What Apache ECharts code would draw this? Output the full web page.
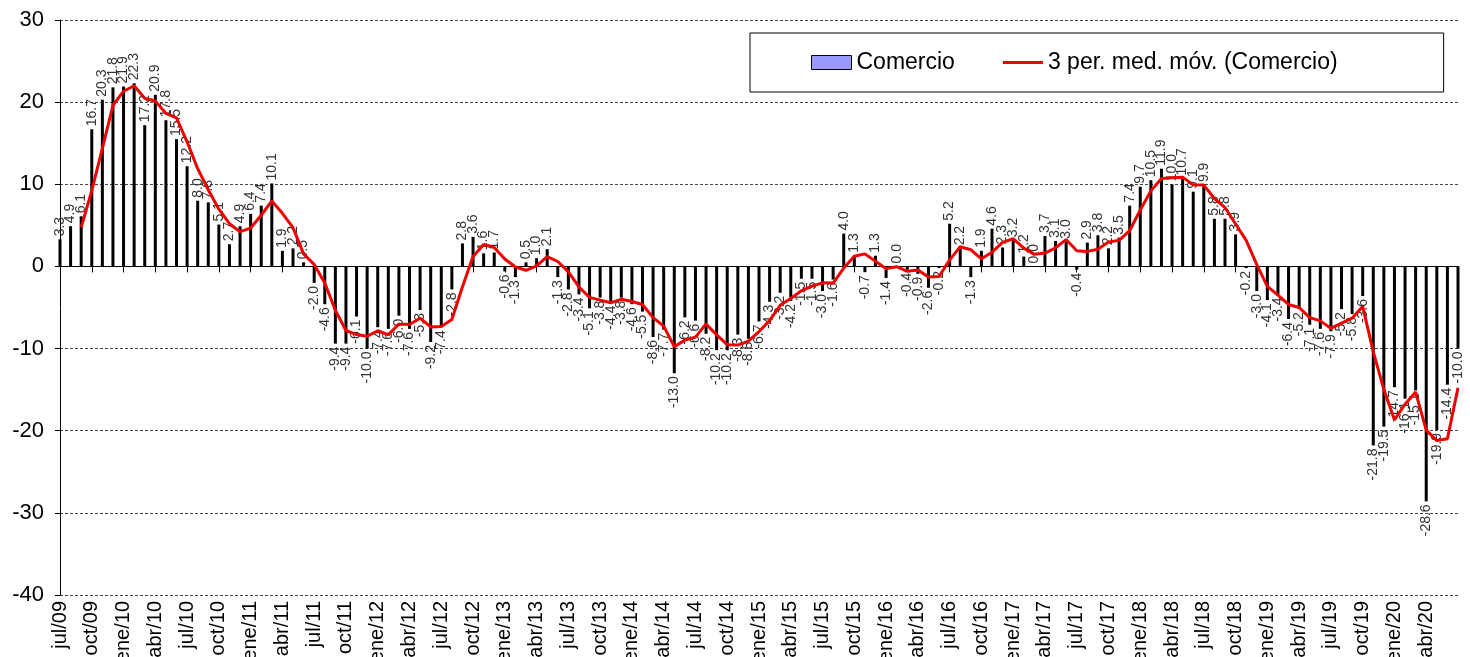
<!DOCTYPE html>
<html>
<head>
<meta charset="utf-8">
<script src="https://cdn.jsdelivr.net/npm/echarts@6/dist/echarts.min.js"></script>
<style>
html,body{margin:0;padding:0;background:#fff;}
#chart{width:1470px;height:657px;}
</style>
</head>
<body>
<div id="chart"></div>
<script>
const categories = [
 'jul/09','ago/09','sep/09','oct/09','nov/09','dic/09',
 'ene/10','feb/10','mar/10','abr/10','may/10','jun/10','jul/10','ago/10','sep/10','oct/10','nov/10','dic/10',
 'ene/11','feb/11','mar/11','abr/11','may/11','jun/11','jul/11','ago/11','sep/11','oct/11','nov/11','dic/11',
 'ene/12','feb/12','mar/12','abr/12','may/12','jun/12','jul/12','ago/12','sep/12','oct/12','nov/12','dic/12',
 'ene/13','feb/13','mar/13','abr/13','may/13','jun/13','jul/13','ago/13','sep/13','oct/13','nov/13','dic/13',
 'ene/14','feb/14','mar/14','abr/14','may/14','jun/14','jul/14','ago/14','sep/14','oct/14','nov/14','dic/14',
 'ene/15','feb/15','mar/15','abr/15','may/15','jun/15','jul/15','ago/15','sep/15','oct/15','nov/15','dic/15',
 'ene/16','feb/16','mar/16','abr/16','may/16','jun/16','jul/16','ago/16','sep/16','oct/16','nov/16','dic/16',
 'ene/17','feb/17','mar/17','abr/17','may/17','jun/17','jul/17','ago/17','sep/17','oct/17','nov/17','dic/17',
 'ene/18','feb/18','mar/18','abr/18','may/18','jun/18','jul/18','ago/18','sep/18','oct/18','nov/18','dic/18',
 'ene/19','feb/19','mar/19','abr/19','may/19','jun/19','jul/19','ago/19','sep/19','oct/19','nov/19','dic/19',
 'ene/20','feb/20','mar/20','abr/20','may/20','jun/20','jul/20'
];

const comercio = [
 3.3, 4.9, 6.1, 16.7, 20.3, 21.8,
 21.9, 22.3, 17.2, 20.9, 17.8, 15.5, 12.2, 8.0, 7.8, 5.1, 2.7, 4.9,
 6.4, 7.4, 10.1, 1.9, 2.2, 0.5, -2.0, -4.6, -9.4, -9.4, -6.1, -10.0,
 -7.4, -7.6, -6.0, -7.6, -5.3, -9.2, -7.4, -2.8, 2.8, 3.6, 1.6, 1.7,
 -0.6, -1.3, 0.5, 1.0, 2.1, -1.3, -2.8, -3.4, -5.1, -3.8, -4.4, -3.8,
 -4.6, -5.5, -8.6, -7.7, -13.0, -6.2, -6.6, -8.2, -10.2, -10.2, -8.3, -8.8,
 -6.7, -4.3, -3.2, -4.2, -1.5, -1.5, -3.0, -1.6, 4.0, 1.3, -0.7, 1.3,
 -1.4, 0.0, -0.4, -0.9, -2.6, -0.2, 5.2, 2.2, -1.3, 1.9, 4.6, 2.3,
 3.2, 1.2, 0.0, 3.7, 3.1, 3.0, -0.4, 2.9, 3.8, 2.2, 3.5, 7.4,
 9.7, 10.5, 11.9, 10.0, 10.7, 9.1, 9.9, 5.8, 5.8, 3.9, -0.2, -3.0,
 -4.1, -3.4, -6.4, -5.2, -7.1, -7.6, -7.9, -5.2, -5.8, -3.6, -21.8, -19.5,
 -14.7, -16.1, -15.1, -28.6, -19.9, -14.4, -10.0
];

const mediaMovil = [
 '-', '-', 4.77, 9.23, 14.37, 19.60,
 21.33, 22.00, 20.47, 20.13, 18.63, 18.07, 15.17, 11.90, 9.33, 6.97, 5.20, 4.23,
 4.67, 6.23, 7.97, 6.47, 4.73, 1.53, 0.23, -2.03, -5.33, -7.80, -8.30, -8.50,
 -7.83, -8.33, -7.00, -7.07, -6.30, -7.37, -7.30, -6.47, -2.47, 1.20, 2.67, 2.30,
 0.90, -0.07, -0.47, 0.07, 1.20, 0.60, -0.67, -2.50, -3.77, -4.10, -4.43, -4.00,
 -4.27, -4.63, -6.23, -7.27, -9.77, -8.97, -8.60, -7.00, -8.33, -9.53, -9.57, -9.10,
 -7.93, -6.60, -4.73, -3.90, -2.97, -2.40, -2.00, -2.03, -0.20, 1.23, 1.53, 0.63,
 -0.27, -0.03, -0.60, -0.43, -1.30, -1.23, 0.80, 2.40, 2.03, 0.93, 1.73, 2.93,
 3.37, 2.23, 1.47, 1.63, 2.27, 3.27, 1.90, 1.83, 2.10, 2.97, 3.17, 4.37,
 6.87, 9.20, 10.70, 10.80, 10.87, 9.93, 9.90, 8.27, 7.17, 5.17, 3.17, 0.23,
 -2.43, -3.50, -4.63, -5.00, -6.23, -6.63, -7.53, -6.90, -6.30, -4.87, -10.40, -14.97,
 -18.67, -16.77, -15.30, -19.93, -21.20, -20.97, -14.77
];

const yTicks = { min: -40, max: 30, interval: 10 };
const seriesNames = ['Comercio', '3 per. med. móv. (Comercio)'];
const lastLabelledIndex = 129; // abr/20

const FONT = "'Liberation Sans', Arial, sans-serif";

const barData = comercio.map(v => ({
  value: v,
  label: v < 0
    ? { position: 'bottom', align: 'right', verticalAlign: 'middle' }
    : { position: 'top', align: 'left', verticalAlign: 'middle' }
}));

const chart = echarts.init(document.getElementById('chart'), null, { renderer: 'canvas' });

chart.setOption({
  animation: false,
  backgroundColor: '#ffffff',
  textStyle: { fontFamily: FONT },
  grid: { left: 60, right: 12, top: 20, bottom: 62, containLabel: false, outerBoundsMode: 'none' },
  legend: {
    left: 750,
    top: 33,
    orient: 'horizontal',
    backgroundColor: '#ffffff',
    borderColor: '#000000',
    borderWidth: 1,
    borderRadius: 0,
    padding: [18, 106, 18, 61],
    itemGap: 48,
    itemWidth: 40,
    itemHeight: 14,
    textStyle: { fontFamily: FONT, fontSize: 23, color: '#000' },
    data: [
      { name: seriesNames[0], icon: 'rect', itemStyle: { color: '#9999FF', borderColor: '#000', borderWidth: 1 } },
      { name: seriesNames[1], icon: 'path://M0,0 L0,0 M0,14 L0,14 M0,5.5 L40,5.5 L40,8.5 L0,8.5 Z', itemStyle: { color: '#EE0000', borderWidth: 0 } }
    ]
  },
  xAxis: [
    {
      type: 'category',
      data: categories,
      position: 'bottom',
      boundaryGap: false,
      axisLine: { show: false, onZero: false },
      axisTick: { show: false },
      splitLine: { show: false },
      axisLabel: {
        interval: (i) => i % 3 === 0 && i <= lastLabelledIndex,
        rotate: 90,
        margin: 6,
        fontSize: 20,
        color: '#000',
        fontFamily: FONT
      }
    },
    {
      type: 'category',
      data: categories,
      position: 'top',
      boundaryGap: false,
      axisLine: { show: true, onZero: true, lineStyle: { color: '#000', width: 1 } },
      axisTick: { show: true, inside: true, interval: 2, length: 6, lineStyle: { color: '#000' } },
      axisLabel: { show: false },
      splitLine: { show: false }
    }
  ],
  yAxis: {
    type: 'value',
    min: yTicks.min,
    max: yTicks.max,
    interval: yTicks.interval,
    axisLine: { show: true, lineStyle: { color: '#000', width: 1 } },
    axisTick: { show: true, length: 5, lineStyle: { color: '#000' } },
    axisLabel: { fontSize: 22, color: '#000', margin: 16, fontFamily: FONT },
    splitLine: { show: true, lineStyle: { color: '#444', width: 1, type: [3, 2] } }
  },
  series: [
    {
      name: seriesNames[0],
      type: 'bar',
      xAxisIndex: 0,
      data: barData,
      barWidth: 3,
      itemStyle: { color: '#000000' },
      z: 2,
      label: {
        show: true,
        rotate: 90,
        distance: 3,
        fontSize: 14,
        color: '#333',
        fontFamily: FONT,
        formatter: p => Number(p.value).toFixed(1)
      }
    },
    {
      name: seriesNames[1],
      type: 'line',
      xAxisIndex: 0,
      data: mediaMovil,
      symbol: 'none',
      showSymbol: false,
      lineStyle: { color: '#EE0000', width: 3 },
      itemStyle: { color: '#EE0000' },
      z: 5
    }
  ]
});
</script>
</body>
</html>
